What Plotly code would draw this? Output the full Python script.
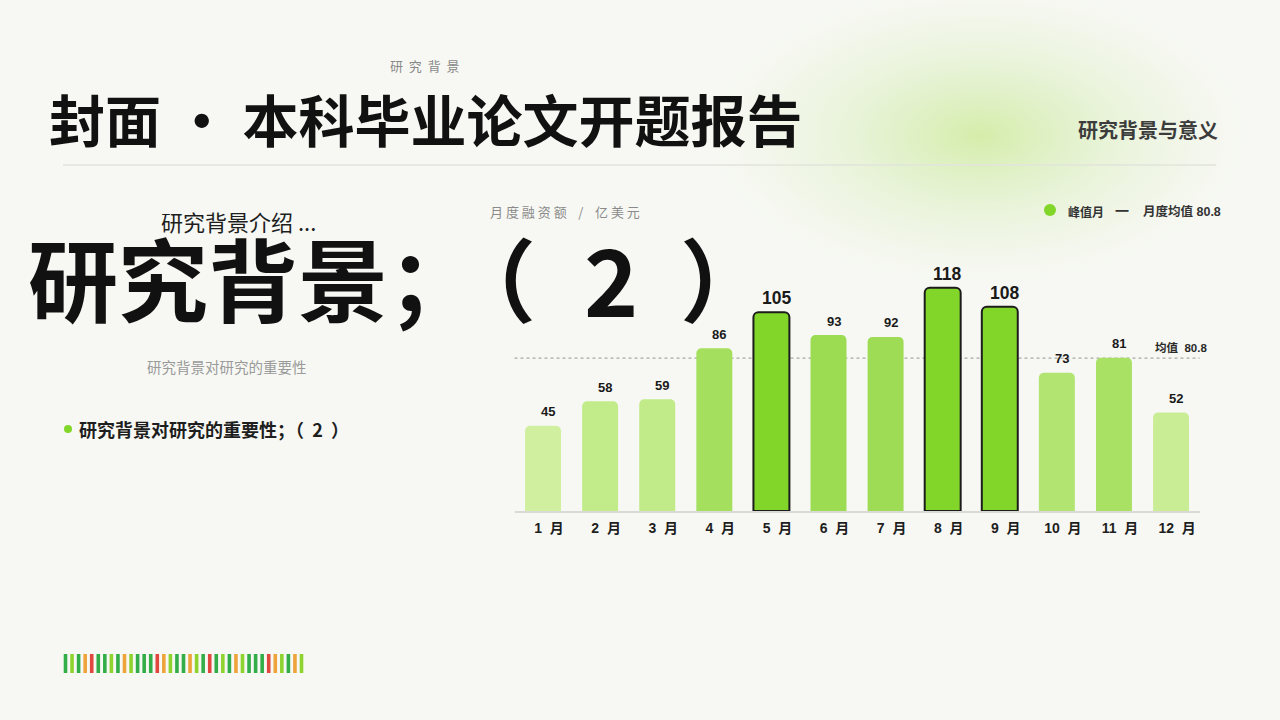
import base64
import plotly.graph_objects as go

# ---------------- data ----------------
months = ["1 月", "2 月", "3 月", "4 月", "5 月", "6 月",
          "7 月", "8 月", "9 月", "10 月", "11 月", "12 月"]
values = [45, 58, 59, 86, 105, 93, 92, 118, 108, 73, 81, 52]
peak_months = ["5 月", "8 月", "9 月"]
mean_value = round(sum(values) / len(values), 1)

barcode_colors = ["G", "L", "G", "O", "R", "G", "G", "L", "G", "O", "L", "G",
                  "G", "G", "R", "O", "L", "G", "G", "O", "L", "G", "R", "G",
                  "L", "G", "O", "L", "G", "G", "G", "R", "O", "L", "G", "O", "L"]

# ---------------- styling ----------------
W, H = 1280, 720
BG = "#f7f8f3"
PEAK = "#82d62a"
CJK = "Noto Sans CJK SC"
LAT = "Liberation Sans, Noto Sans CJK SC"
NB = "\u00a0"
pal = {"G": "#33ad48", "L": "#8ed32e", "O": "#eea43a", "R": "#e0473f"}


def px(x):
    return x / W


def py(y):
    return 1 - y / H


def mix(c1, c2, t):
    a = [int(c1[i:i + 2], 16) for i in (1, 3, 5)]
    b = [int(c2[i:i + 2], 16) for i in (1, 3, 5)]
    return "#" + "".join(f"{round(a[i] + (b[i] - a[i]) * t):02x}" for i in range(3))


def spaced(s, n=1):
    return (NB * n).join(s)


normal_vals = [v for m, v in zip(months, values) if m not in peak_months]
vmin, vmax = min(normal_vals), max(normal_vals)
colors, lw = [], []
for m, v in zip(months, values):
    if m in peak_months:
        colors.append(PEAK)
        lw.append(2)
    else:
        colors.append(mix("#d0f09f", "#9cdc52", (v - vmin) / (vmax - vmin)))
        lw.append(0)

fig = go.Figure()
fig.add_trace(go.Bar(
    x=months, y=values,
    marker=dict(color=colors, line=dict(color="#1c1c1c", width=lw), cornerradius=5),
    hoverinfo="x+y", showlegend=False,
))

annotations = []
for m, v in zip(months, values):
    pk = m in peak_months
    annotations.append(dict(
        x=m, y=v, xref="x", yref="y", text=f"<b>{v}</b>", showarrow=False,
        yanchor="middle", yshift=14, xshift=5,
        font=dict(family=LAT, size=17.5 if pk else 13, color="#1a1a1a"),
    ))

# mean line + label
shapes = [dict(type="line", xref="x domain", yref="y", x0=0, x1=1,
               y0=mean_value, y1=mean_value,
               line=dict(color="#a8a8a8", width=1.2, dash="dot"), layer="below")]
annotations.append(dict(
    x=px(1209), y=mean_value, xref="paper", yref="y", xanchor="right", yanchor="middle",
    yshift=11, showarrow=False, text=f"<b>均值{NB}{NB}{mean_value}</b>",
    font=dict(family=LAT, size=11.5, color="#2a2a2a")))

# header rule
shapes.append(dict(type="line", xref="paper", yref="paper", x0=px(63), x1=px(1216),
                   y0=py(165), y1=py(165), line=dict(color="#e2e4db", width=1.5)))

# legend
shapes.append(dict(type="circle", xref="paper", yref="paper",
                   x0=px(1044), x1=px(1056), y0=py(204), y1=py(216),
                   fillcolor=PEAK, line=dict(width=0)))
annotations += [
    dict(x=px(1066), y=py(211), xref="paper", yref="paper", xanchor="left", yanchor="middle",
         showarrow=False, text="<b>峰值月</b>", font=dict(family=CJK, size=12, color="#333333")),
    dict(x=px(1113), y=py(210), xref="paper", yref="paper", xanchor="left", yanchor="middle",
         showarrow=False, text="<b>一</b>", font=dict(family=CJK, size=14, color="#333333")),
    dict(x=px(1141), y=py(211), xref="paper", yref="paper", xanchor="left", yanchor="middle",
         showarrow=False, text="<b>月度均值 80.8</b>", font=dict(family=LAT, size=12.5, color="#333333")),
]

# texts
BIG_Y = 276
annotations += [
    dict(x=px(388), y=py(65), xref="paper", yref="paper", xanchor="left", yanchor="middle",
         showarrow=False, text=spaced("研究背景", 2), font=dict(family=CJK, size=13, color="#8a8a8a")),
    dict(x=px(47), y=py(118), xref="paper", yref="paper", xanchor="left", yanchor="middle",
         showarrow=False, text="<b>封面 · 本科毕业论文开题报告</b>",
         font=dict(family=CJK, size=56, color="#111111")),
    dict(x=px(1220), y=py(129), xref="paper", yref="paper", xanchor="right", yanchor="middle",
         showarrow=False, text="<b>研究背景与意义</b>", font=dict(family=CJK, size=20, color="#3c3c3c")),
    dict(x=px(488), y=py(211), xref="paper", yref="paper", xanchor="left", yanchor="middle",
         showarrow=False,
         text=spaced("月度融资额") + NB * 4 + "/" + NB * 4 + spaced("亿美元"),
         font=dict(family=CJK, size=13, color="#8a8a8a")),
    dict(x=px(159), y=py(221), xref="paper", yref="paper", xanchor="left", yanchor="middle",
         showarrow=False, text="研究背景介绍 ...", font=dict(family=CJK, size=22, color="#1e1e1e")),
    dict(x=px(26), y=py(BIG_Y), xref="paper", yref="paper", xanchor="left", yanchor="middle",
         showarrow=False, text="<b>研究背景；</b>", font=dict(family=CJK, size=90, color="#111111")),
    dict(x=px(491), y=py(BIG_Y), xref="paper", yref="paper", xanchor="center", yanchor="middle",
         showarrow=False, text="<b>（</b>", font=dict(family=CJK, size=90, color="#111111")),
    dict(x=px(611), y=py(BIG_Y), xref="paper", yref="paper", xanchor="center", yanchor="middle",
         showarrow=False, text="<b>2</b>", font=dict(family=CJK, size=92, color="#111111")),
    dict(x=px(725), y=py(BIG_Y), xref="paper", yref="paper", xanchor="center", yanchor="middle",
         showarrow=False, text="<b>）</b>", font=dict(family=CJK, size=90, color="#111111")),
    dict(x=px(145), y=py(366), xref="paper", yref="paper", xanchor="left", yanchor="middle",
         showarrow=False, text="研究背景对研究的重要性", font=dict(family=CJK, size=14.5, color="#9a9a9a")),
    dict(x=px(77), y=py(429), xref="paper", yref="paper", xanchor="left", yanchor="middle",
         showarrow=False, text=f"<b>研究背景对研究的重要性；（{NB}{NB}2{NB}{NB}）</b>",
         font=dict(family=CJK, size=18, color="#1e1e1e")),
]
shapes.append(dict(type="circle", xref="paper", yref="paper",
                   x0=px(64), x1=px(72), y0=py(425), y1=py(433),
                   fillcolor=PEAK, line=dict(width=0)))

# barcode decoration
n = len(barcode_colors)
x_start, x_end = 65.5, 301.5
step = (x_end - x_start) / (n - 1)
for i, c in enumerate(barcode_colors):
    cx = x_start + i * step
    shapes.append(dict(type="rect", xref="paper", yref="paper",
                       x0=px(cx - 1.8), x1=px(cx + 1.8), y0=py(673), y1=py(654),
                       fillcolor=pal[c], line=dict(width=0)))

# soft green glow (svg radial gradient)
svg = ('<svg xmlns="http://www.w3.org/2000/svg" width="600" height="320" viewBox="0 0 600 320">'
       '<defs><radialGradient id="g" cx="50%" cy="50%" r="50%">'
       '<stop offset="0%" stop-color="#d3eca6" stop-opacity="0.95"/>'
       '<stop offset="35%" stop-color="#def0c4" stop-opacity="0.75"/>'
       '<stop offset="70%" stop-color="#eaf3dc" stop-opacity="0.45"/>'
       '<stop offset="100%" stop-color="#f7f8f3" stop-opacity="0"/>'
       '</radialGradient></defs>'
       '<rect width="600" height="320" fill="url(#g)"/></svg>')
src = "data:image/svg+xml;base64," + base64.b64encode(svg.encode()).decode()

fig.update_layout(
    width=W, height=H, margin=dict(l=0, r=0, t=0, b=0),
    paper_bgcolor=BG, plot_bgcolor="rgba(0,0,0,0)",
    bargap=0.37,
    xaxis=dict(domain=[px(514.5), px(1199.6)], showline=True, linecolor="#d9d9d6",
               linewidth=2, ticks="", showgrid=False, zeroline=False,
               tickvals=months, ticktext=[m.replace(" ", NB * 2) for m in months],
               ticklabelstandoff=3, ticklabelshift=6,
               tickfont=dict(family=LAT, size=14, color="#1e1e1e", weight="bold"),
               fixedrange=True),
    yaxis=dict(domain=[py(511), py(265)], range=[0, 130], visible=False,
               showgrid=False, zeroline=False, fixedrange=True),
    annotations=annotations, shapes=shapes,
    images=[dict(source=src, xref="paper", yref="paper", x=px(690), y=py(-25),
                 sizex=px(580), sizey=320 / H, sizing="stretch", layer="below")],
    showlegend=False,
)

fig.write_html("out.html", config={"displayModeBar": False},
               post_script="document.body.style.margin='0';")
